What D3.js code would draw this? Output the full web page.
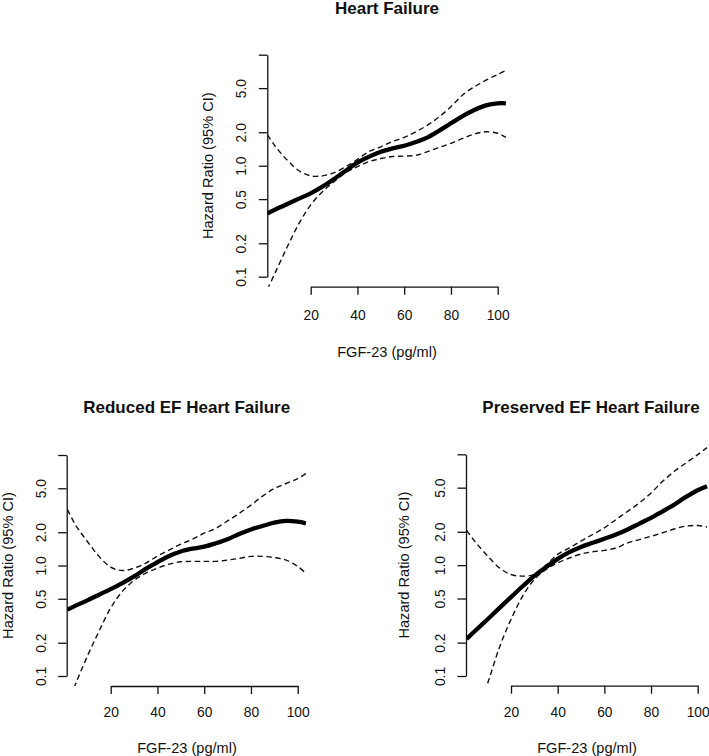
<!DOCTYPE html>
<html>
<head>
<meta charset="utf-8">
<script src="https://cdn.jsdelivr.net/npm/d3@7"></script>
<style>
  html, body { margin: 0; padding: 0; background: #fff; }
  svg { display: block; }
  text { font-family: "Liberation Sans", Arial, Helvetica, sans-serif; fill: #111; }
</style>
</head>
<body>
<svg id="chart" width="709" height="756"></svg>
<script>
// ---------------- data ----------------
const yTickValues = [0.1, 0.2, 0.5, 1, 2, 5, 10];
const xTickValues = [20, 40, 60, 80, 100];
const yLabel = "Hazard Ratio (95% CI)";
const xLabel = "FGF-23 (pg/ml)";
const titles = ["Heart Failure", "Reduced EF Heart Failure", "Preserved EF Heart Failure"];

const fgfTop = [1.5, 5, 10, 15, 20, 25, 30, 35, 40, 45, 50, 55, 60, 65, 70, 75, 80, 85, 90, 95, 100, 103.5];
const fgfPres = [1, 5, 10, 15, 20, 25, 30, 35, 40, 45, 50, 55, 60, 65, 70, 75, 80, 85, 90, 95, 100, 104];

const hfEst   = [0.372, 0.404, 0.452, 0.505, 0.564, 0.647, 0.759, 0.902, 1.065, 1.206, 1.337, 1.433, 1.514, 1.634, 1.80, 2.07, 2.41, 2.80, 3.18, 3.50, 3.65, 3.65];
const hfUpper = [1.90, 1.48, 1.12, 0.90, 0.81, 0.81, 0.865, 0.98, 1.14, 1.34, 1.48, 1.65, 1.80, 2.02, 2.32, 2.76, 3.40, 4.33, 5.14, 5.90, 6.64, 7.2];
const hfLower = [0.077, 0.111, 0.186, 0.302, 0.443, 0.583, 0.718, 0.865, 0.98, 1.09, 1.16, 1.21, 1.22, 1.24, 1.34, 1.46, 1.59, 1.76, 1.93, 2.02, 1.96, 1.80];

const redEst   = [0.399, 0.433, 0.484, 0.544, 0.612, 0.693, 0.796, 0.933, 1.07, 1.22, 1.34, 1.42, 1.48, 1.59, 1.73, 1.93, 2.12, 2.28, 2.44, 2.53, 2.49, 2.41];
const redUpper = [3.2, 2.32, 1.65, 1.21, 0.966, 0.90, 0.946, 1.05, 1.22, 1.38, 1.56, 1.73, 1.96, 2.17, 2.53, 2.96, 3.52, 4.25, 4.98, 5.52, 6.12, 6.79];
const redLower = [0.055, 0.085, 0.151, 0.254, 0.413, 0.583, 0.733, 0.853, 0.946, 1.03, 1.08, 1.09, 1.09, 1.09, 1.12, 1.16, 1.21, 1.21, 1.18, 1.12, 0.98, 0.853];

const presEst   = [0.216, 0.260, 0.325, 0.41, 0.515, 0.645, 0.80, 0.96, 1.14, 1.31, 1.46, 1.59, 1.73, 1.89, 2.10, 2.37, 2.67, 3.06, 3.52, 4.13, 4.74, 5.15];
const presUpper = [2.06, 1.59, 1.21, 0.946, 0.824, 0.796, 0.824, 1.0, 1.25, 1.43, 1.65, 1.89, 2.17, 2.58, 3.06, 3.64, 4.48, 5.71, 7.03, 8.35, 9.93, 11.5];
const presLower = [0.025, 0.045, 0.086, 0.18, 0.324, 0.526, 0.743, 0.914, 1.05, 1.16, 1.26, 1.32, 1.36, 1.43, 1.59, 1.70, 1.82, 1.96, 2.12, 2.25, 2.28, 2.21];

// ---------------- layout ----------------
const panels = [
  { title: titles[0], xs: fgfTop, est: hfEst, lo: hfLower, hi: hfUpper,
    axisX: 267.3, x20: 310.7, x100: 497.7, right: 506.6, xAxisY: 286.7, y01: 276.7, y10: 54.7,
    titleX: 387, titleY: 14, xlabX: 387, tickBase: 33.3, labBase: 70, ylabOff: 60 },
  { title: titles[1], xs: fgfTop, est: redEst, lo: redLower, hi: redUpper,
    axisX: 66.7, x20: 110.7, x100: 297.7, right: 306.6, xAxisY: 686, y01: 676, y10: 455,
    titleX: 186.7, titleY: 413.3, xlabX: 187, tickBase: 31.3, labBase: 67.3, ylabOff: 58.7 },
  { title: titles[2], xs: fgfPres, est: presEst, lo: presLower, hi: presUpper,
    axisX: 466, x20: 511, x100: 697.7, right: 712, xAxisY: 685.7, y01: 676, y10: 454.3,
    titleX: 591, titleY: 413.3, xlabX: 587, tickBase: 31.6, labBase: 67.6, ylabOff: 62 }
];

const svg = d3.select("#chart");
const defs = svg.append("defs");

panels.forEach((p, i) => {
  const x = d3.scaleLinear().domain([20, 100]).range([p.x20, p.x100]);
  const y = d3.scaleLog().domain([0.1, 10]).range([p.y01, p.y10]);
  const pad = (p.y01 - p.y10) * 0.04;

  const g = svg.append("g");

  // clip to plot region
  defs.append("clipPath").attr("id", "clip" + i)
    .append("rect")
    .attr("x", p.axisX).attr("y", p.y10 - pad)
    .attr("width", p.right - p.axisX).attr("height", p.xAxisY - (p.y10 - pad));

  // y axis
  const yAxis = d3.axisLeft(y).tickValues(yTickValues).tickSize(8.5).tickSizeOuter(0)
    .tickFormat(d => d === 10 ? "" : d3.format(".1f")(d));
  const yg = g.append("g").attr("transform", `translate(${p.axisX},0)`).call(yAxis);
  yg.select(".domain").attr("stroke", "#111").attr("stroke-width", 1.3);
  yg.selectAll(".tick line").attr("stroke", "#111").attr("stroke-width", 1.3);
  yg.selectAll(".tick text")
    .attr("x", 0).attr("y", 0).attr("dy", "0.36em")
    .attr("transform", "translate(-26,0) rotate(-90)")
    .attr("text-anchor", "middle")
    .style("font-size", "13.8px").attr("fill", "#111")
    .style("font-family", "'Liberation Sans', Arial, sans-serif");

  // x axis
  const xAxis = d3.axisBottom(x).tickValues(xTickValues).tickSize(8).tickSizeOuter(0);
  const xg = g.append("g").attr("transform", `translate(0,${p.xAxisY})`).call(xAxis);
  xg.select(".domain").attr("stroke", "#111").attr("stroke-width", 1.3);
  xg.selectAll(".tick line").attr("stroke", "#111").attr("stroke-width", 1.3);
  xg.selectAll(".tick text")
    .attr("y", p.tickBase).attr("dy", 0)
    .style("font-size", "13.8px").attr("fill", "#111")
    .style("font-family", "'Liberation Sans', Arial, sans-serif");

  // labels
  g.append("text").attr("x", p.xlabX).attr("y", p.xAxisY + p.labBase)
    .attr("text-anchor", "middle").style("font-size", "14.6px").text(xLabel);
  g.append("text")
    .attr("transform", `translate(${p.axisX - p.ylabOff},${(p.y01 + p.y10) / 2}) rotate(-90)`)
    .attr("dy", "0.36em")
    .attr("text-anchor", "middle").style("font-size", "14.6px").text(yLabel);
  g.append("text").attr("x", p.titleX).attr("y", p.titleY)
    .attr("text-anchor", "middle").style("font-size", "17px").style("font-weight", "bold")
    .text(p.title);

  // curves
  const line = vals => d3.line()
    .x((d, j) => x(p.xs[j]))
    .y(d => y(d))
    .curve(d3.curveCatmullRom.alpha(0.5))(vals);

  const plot = g.append("g").attr("clip-path", `url(#clip${i})`);
  [p.hi, p.lo].forEach(vals => {
    plot.append("path").attr("d", line(vals))
      .attr("fill", "none").attr("stroke", "#111")
      .attr("stroke-width", 1.4).attr("stroke-dasharray", "5.5,3.5");
  });
  plot.append("path").attr("d", line(p.est))
    .attr("fill", "none").attr("stroke", "#000")
    .attr("stroke-width", 4.3).attr("stroke-linejoin", "round");
});
</script>
</body>
</html>
